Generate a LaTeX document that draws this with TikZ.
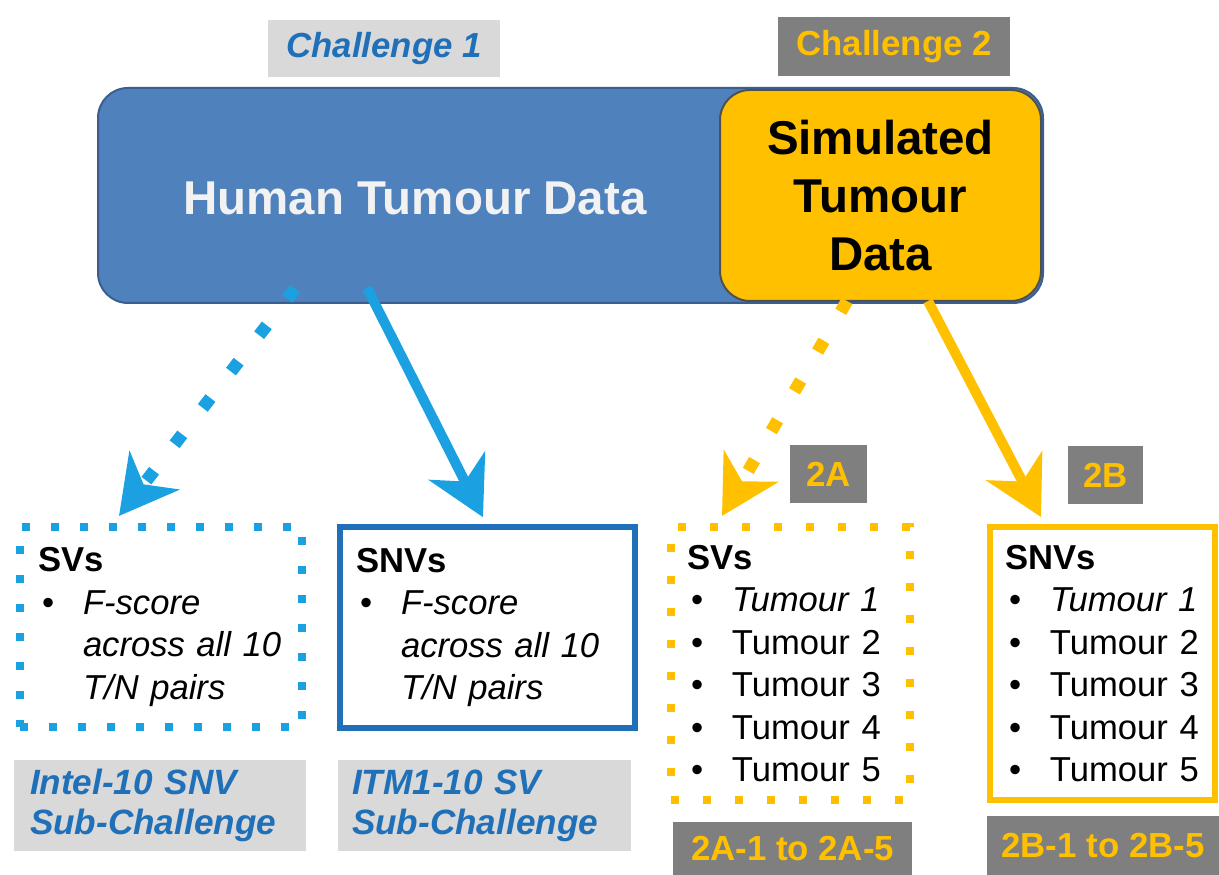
\documentclass[tikz,border=0pt]{standalone}
\usepackage{fontspec}
\setmainfont{Liberation Sans}
\usepackage{tikz}
\usetikzlibrary{arrows.meta}

\definecolor{humanblue}{HTML}{4F81BD}
\definecolor{humanedge}{HTML}{3A5F8E}
\definecolor{simyellow}{HTML}{FFC000}
\definecolor{simedge}{HTML}{505050}
\definecolor{arrowcyan}{HTML}{1BA1E2}
\definecolor{labelblue}{HTML}{1F70B8}
\definecolor{tagpale}{HTML}{D9D9D9}
\definecolor{tagdark}{HTML}{7F7F7F}
\definecolor{textwhite}{HTML}{F2F2F2}

\newcommand{\listbullet}{\makebox[0.9cm][l]{\hspace{0.08cm}\textbullet}}
\newcommand{\listindent}{\hspace*{0.9cm}}

\begin{document}
\begin{tikzpicture}
    \tikzstyle{arrow} = [line width=0.2cm, -{Stealth[length=1.15cm, width=1.25cm, inset=0.35cm]}]
    \tikzstyle{dotarrow} = [arrow, line width=0.25cm, dash pattern=on 0.25cm off 0.67cm]
    \tikzstyle{paletag} = [fill=tagpale, text=labelblue, font=\fontsize{19.8}{22.8}\selectfont\bfseries\itshape]
    \tikzstyle{darktag} = [fill=tagdark, text=simyellow, font=\fontsize{19.8}{23}\selectfont\bfseries]
    \tikzstyle{listbox} = [align=left, inner ysep=0.1cm, font=\fontsize{19.7}{24.2}\selectfont]

    \useasboundingbox (0,0) rectangle (24.38,17.5);

    % Challenge headings above the data
    \node [paletag, minimum width=4.64cm, minimum height=1.14cm] (ChallengeOne) at (7.68,16.53) {Challenge 1};
    \node [darktag, minimum width=4.64cm, minimum height=1.18cm] (ChallengeTwo) at (17.88,16.57) {Challenge 2};

    % Human data, long blue box
    \node [draw=humanedge, line width=0.04cm, fill=humanblue, rounded corners=0.6cm,
           minimum width=18.9cm, minimum height=4.3cm] (Human) at (11.41,13.59) {};
    \node [text=textwhite, font=\fontsize{27}{31}\selectfont\bfseries] (HumanText) at (8.3,13.54) {Human Tumour Data};

    % Simulated data, yellow box at the right end
    \node [draw=simedge, line width=0.04cm, fill=simyellow, rounded corners=0.6cm,
           minimum width=6.42cm, minimum height=4.22cm, align=center,
           font=\fontsize{27}{33}\selectfont\bfseries] (Sim) at (17.61,13.59) {Simulated\\Tumour\\Data};

    % Challenge 1, left box (dotted)
    \node [listbox, draw=arrowcyan, line width=0.16cm, dash pattern=on 0.16cm off 0.42cm,
           text width=4.92cm, inner xsep=0.36cm, minimum height=4cm] (SVsHuman) at (3.22,4.96)
          {\textbf{SVs}\\ \listbullet\textit{F-score}\\ \listindent\textit{across all 10}\\ \listindent\textit{T/N pairs}};
    \draw [dotarrow, arrowcyan] ([xshift=3.96cm, yshift=0.3cm]Human.south west) -- ([xshift=-0.84cm, yshift=0.14cm]SVsHuman.north);

    % Challenge 1, right box
    \node [listbox, draw=labelblue, line width=0.11cm,
           text width=5.26cm, inner xsep=0.32cm, minimum height=4.02cm] (SNVsHuman) at (9.75,4.95)
          {\textbf{SNVs}\\ \listbullet\textit{F-score}\\ \listindent\textit{across all 10}\\ \listindent\textit{T/N pairs}};
    \draw [arrow, arrowcyan] ([xshift=5.4cm, yshift=0.32cm]Human.south west) -- ([xshift=-0.09cm, yshift=0.14cm]SNVsHuman.north);

    % Challenge 2, left box (dotted)
    \node [listbox, draw=simyellow, line width=0.16cm, dash pattern=on 0.16cm off 0.48cm,
           text width=4.14cm, inner xsep=0.32cm, minimum height=5.46cm] (SVsSim) at (15.81,4.23)
          {\textbf{SVs}\\ \listbullet\textit{Tumour~1}\\ \listbullet Tumour~2\\ \listbullet Tumour~3\\
           \listbullet Tumour~4\\ \listbullet Tumour~5};
    \draw [dotarrow, simyellow] ([xshift=-0.67cm, yshift=0.02cm]Sim.south) -- ([xshift=-1.37cm, yshift=0.14cm]SVsSim.north);

    % Challenge 2, right box
    \node [listbox, draw=simyellow, line width=0.12cm,
           text width=3.9cm, inner xsep=0.3cm, minimum height=5.46cm] (SNVsSim) at (22.05,4.23)
          {\textbf{SNVs}\\ \listbullet\textit{Tumour~1}\\ \listbullet Tumour~2\\ \listbullet Tumour~3\\
           \listbullet Tumour~4\\ \listbullet Tumour~5};
    \draw [arrow, simyellow] ([xshift=0.95cm, yshift=0.02cm]Sim.south) -- ([xshift=-1.23cm, yshift=0.14cm]SNVsSim.north);

    % 2A and 2B tags
    \node [darktag, minimum width=1.54cm, minimum height=1.16cm] (TagA) at (16.57,8.02) {2A};
    \node [darktag, minimum width=1.5cm, minimum height=1.16cm] (TagB) at (22.11,8.0) {2B};

    % Sub-challenge names under the boxes
    \node [paletag, align=left, text width=5.2cm, inner xsep=0.32cm, minimum height=1.82cm,
           font=\fontsize{20}{22.8}\selectfont\bfseries\itshape] (IntelSub) at (3.2,1.39) {Intel-10 SNV\\Sub-Challenge};
    \node [paletag, align=left, text width=5.3cm, inner xsep=0.28cm, minimum height=1.82cm,
           font=\fontsize{20}{22.8}\selectfont\bfseries\itshape] (ITMSub) at (9.69,1.39) {ITM1-10 SV\\Sub-Challenge};
    \node [darktag, minimum width=4.78cm, minimum height=1.06cm] (RangeA) at (15.85,0.53) {2A-1 to 2A-5};
    \node [darktag, minimum width=4.64cm, minimum height=1.18cm] (RangeB) at (22.06,0.59) {2B-1 to 2B-5};
\end{tikzpicture}
\end{document}
